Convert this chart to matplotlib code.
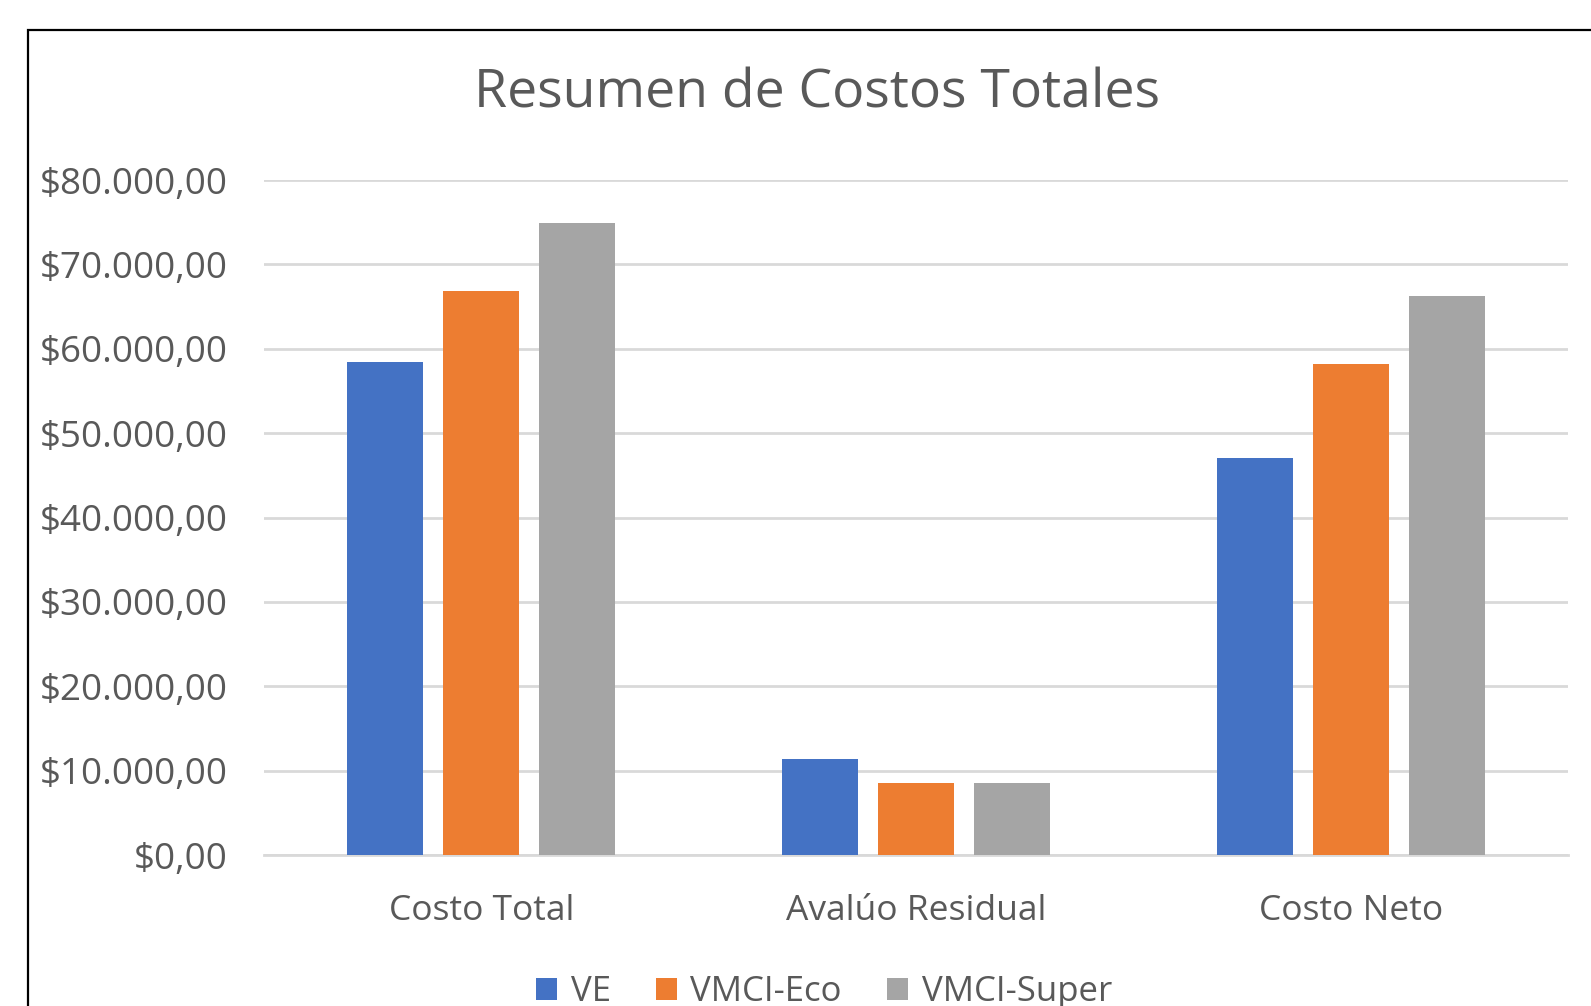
import matplotlib
matplotlib.use("Agg")
import matplotlib.pyplot as plt
import numpy as np
from matplotlib.patches import Rectangle
from matplotlib.ticker import FuncFormatter

# datos
categorias = ["Costo Total", "Avalúo Residual", "Costo Neto"]
series = ["VE", "VMCI-Eco", "VMCI-Super"]
ve = [58450, 11380, 47100]
vmci_eco = [66850, 8540, 58200]
vmci_super = [74900, 8540, 66250]
colores = ["#4472C4", "#ED7D31", "#A5A5A5"]

plt.rcParams["font.family"] = ["Open Sans", "DejaVu Sans"]

W, H = 1591, 1006
fig = plt.figure(figsize=(W / 100, H / 100), dpi=100)
fig.patch.set_facecolor("white")

# marco del grafico (cortado a la derecha y abajo)
fig.add_artist(Rectangle((28 / W, -0.1), 2, 1 - 30 / H + 0.1,
                         transform=fig.transFigure, fill=False,
                         edgecolor="black", linewidth=1.6))

ax = fig.add_axes([264 / W, (H - 855) / H, (1568 - 264) / W, (855 - 180) / H])

x = np.arange(len(categorias))
ancho = 0.175
paso = 0.221
for i, (nombre, valores) in enumerate(zip(series, [ve, vmci_eco, vmci_super])):
    ax.bar(x + (i - 1) * paso, valores, width=ancho, color=colores[i],
           label=nombre, zorder=3)

ax.set_xlim(-0.5, 2.5)
ax.set_ylim(0, 80000)
ax.set_yticks(np.arange(0, 80001, 10000))
ax.yaxis.set_major_formatter(FuncFormatter(
    lambda v, p: "$" + f"{v:,.2f}".replace(",", "X").replace(".", ",").replace("X", ".")))
ax.set_xticks(x)
ax.set_xticklabels(categorias)

ax.grid(axis="y", color="#D9D9D9", linewidth=2, zorder=0)
for s in ["top", "right", "left"]:
    ax.spines[s].set_visible(False)
ax.spines["bottom"].set_color("#D9D9D9")
ax.spines["bottom"].set_linewidth(2)
ax.tick_params(axis="y", length=0, pad=26, labelsize=26.5, labelcolor="#595959")
ax.tick_params(axis="x", length=0, pad=28, labelsize=25.5, labelcolor="#595959")

fig.text(817 / W, 1 - 94 / H, "Resumen de Costos Totales", ha="center",
         va="center", fontsize=38.5, color="#595959")

fig.legend(loc="center", bbox_to_anchor=(824 / W, 1 - 992 / H), ncol=3,
           frameon=False, fontsize=25, labelcolor="#595959",
           handlelength=0.6, handleheight=0.6, handletextpad=0.4,
           columnspacing=1.3)

fig.savefig("out.png", dpi=100, facecolor="white")
